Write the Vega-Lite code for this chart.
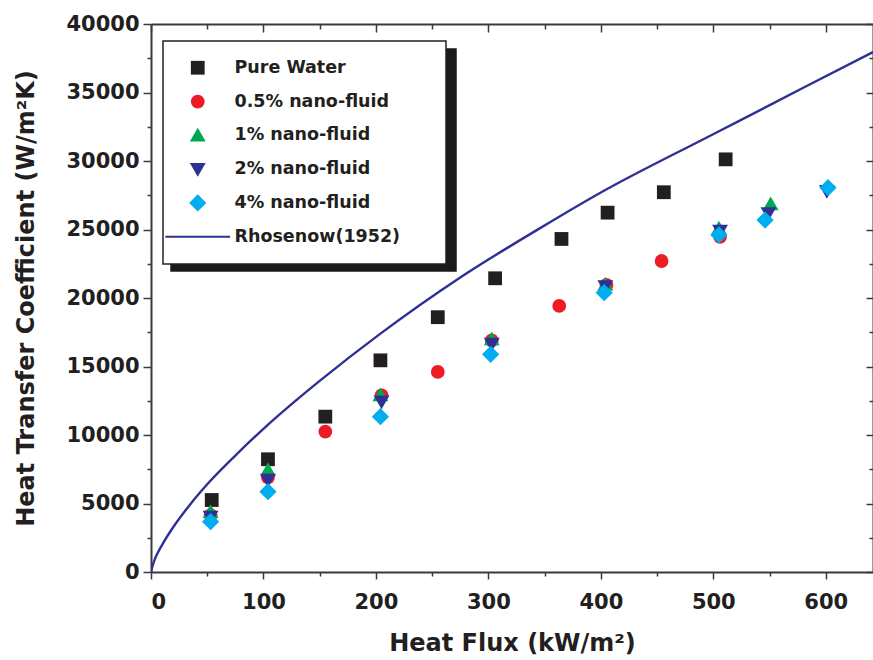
{
  "$schema": "https://vega.github.io/schema/vega-lite/v6.json",
  "width": 722,
  "height": 548,
  "autosize": {"type": "none"},
  "padding": {"left": 151, "top": 24, "right": 0, "bottom": 88},
  "background": "white",
  "config": {
    "view": {"stroke": null},
    "axis": {"grid": false, "domainColor": "#3a3a3a", "domainWidth": 2, "tickColor": "#3a3a3a", "tickWidth": 1.5, "labelFont": "DejaVu Sans", "labelFontWeight": "bold", "labelFontSize": 21, "labelColor": "#231f20", "titleFont": "DejaVu Sans", "titleFontWeight": "bold", "titleFontSize": 24, "titleColor": "#231f20"},
    "legend": {"strokeColor": "#222", "strokeWidth": 1.5, "fillColor": "white", "symbolStrokeWidth": 0}
  },
  "datasets": {
    "points": [
      {"series": "Pure Water", "q": 54, "h": 5255},
      {"series": "Pure Water", "q": 104, "h": 8230},
      {"series": "Pure Water", "q": 155, "h": 11340},
      {"series": "Pure Water", "q": 204, "h": 15450},
      {"series": "Pure Water", "q": 255, "h": 18600},
      {"series": "Pure Water", "q": 306, "h": 21440},
      {"series": "Pure Water", "q": 365, "h": 24310},
      {"series": "Pure Water", "q": 406, "h": 26230},
      {"series": "Pure Water", "q": 456, "h": 27720},
      {"series": "Pure Water", "q": 511, "h": 30120},
      {"series": "0.5% nano-fluid", "q": 53, "h": 4150},
      {"series": "0.5% nano-fluid", "q": 104, "h": 6900},
      {"series": "0.5% nano-fluid", "q": 155, "h": 10240},
      {"series": "0.5% nano-fluid", "q": 205, "h": 12900},
      {"series": "0.5% nano-fluid", "q": 255, "h": 14600},
      {"series": "0.5% nano-fluid", "q": 303, "h": 16900},
      {"series": "0.5% nano-fluid", "q": 363, "h": 19420},
      {"series": "0.5% nano-fluid", "q": 405, "h": 20950},
      {"series": "0.5% nano-fluid", "q": 454, "h": 22700},
      {"series": "0.5% nano-fluid", "q": 506, "h": 24470},
      {"series": "1% nano-fluid", "q": 53, "h": 4400},
      {"series": "1% nano-fluid", "q": 104, "h": 7450},
      {"series": "1% nano-fluid", "q": 204, "h": 12920},
      {"series": "1% nano-fluid", "q": 303, "h": 17000},
      {"series": "1% nano-fluid", "q": 404, "h": 21000},
      {"series": "1% nano-fluid", "q": 505, "h": 25090},
      {"series": "1% nano-fluid", "q": 551, "h": 26860},
      {"series": "2% nano-fluid", "q": 53, "h": 4010},
      {"series": "2% nano-fluid", "q": 104, "h": 6720},
      {"series": "2% nano-fluid", "q": 205, "h": 12430},
      {"series": "2% nano-fluid", "q": 303, "h": 16650},
      {"series": "2% nano-fluid", "q": 404, "h": 20850},
      {"series": "2% nano-fluid", "q": 506, "h": 24900},
      {"series": "2% nano-fluid", "q": 549, "h": 26180},
      {"series": "2% nano-fluid", "q": 601, "h": 27800},
      {"series": "4% nano-fluid", "q": 53, "h": 3670},
      {"series": "4% nano-fluid", "q": 104, "h": 5860},
      {"series": "4% nano-fluid", "q": 204, "h": 11340},
      {"series": "4% nano-fluid", "q": 302, "h": 15890},
      {"series": "4% nano-fluid", "q": 403, "h": 20390},
      {"series": "4% nano-fluid", "q": 505, "h": 24600},
      {"series": "4% nano-fluid", "q": 546, "h": 25690},
      {"series": "4% nano-fluid", "q": 602, "h": 28050}
    ],
    "curve": [
      {"series": "Rhosenow(1952)", "q": 0, "h": 0},
      {"series": "Rhosenow(1952)", "q": 1, "h": 330},
      {"series": "Rhosenow(1952)", "q": 3, "h": 850},
      {"series": "Rhosenow(1952)", "q": 6, "h": 1400},
      {"series": "Rhosenow(1952)", "q": 10, "h": 2000},
      {"series": "Rhosenow(1952)", "q": 20, "h": 3300},
      {"series": "Rhosenow(1952)", "q": 35, "h": 4950},
      {"series": "Rhosenow(1952)", "q": 50, "h": 6400},
      {"series": "Rhosenow(1952)", "q": 75, "h": 8500},
      {"series": "Rhosenow(1952)", "q": 100, "h": 10450},
      {"series": "Rhosenow(1952)", "q": 125, "h": 12250},
      {"series": "Rhosenow(1952)", "q": 150, "h": 13950},
      {"series": "Rhosenow(1952)", "q": 204, "h": 17400},
      {"series": "Rhosenow(1952)", "q": 275, "h": 21500},
      {"series": "Rhosenow(1952)", "q": 346, "h": 25100},
      {"series": "Rhosenow(1952)", "q": 400, "h": 27700},
      {"series": "Rhosenow(1952)", "q": 489, "h": 31500},
      {"series": "Rhosenow(1952)", "q": 520, "h": 32800},
      {"series": "Rhosenow(1952)", "q": 580, "h": 35350},
      {"series": "Rhosenow(1952)", "q": 642, "h": 37950}
    ]
  },
  "layer": [
    {
      "data": {"name": "curve"},
      "mark": {"type": "line", "strokeWidth": 2.4, "interpolate": "monotone", "clip": true},
      "encoding": {
        "x": {"field": "q", "type": "quantitative", "scale": {"domain": [0, 642], "nice": false, "zero": false},
              "axis": {"orient": "bottom", "values": [50, 150, 250, 350, 450, 550], "tickSize": 4, "labels": false, "domain": false, "title": null}},
        "y": {"field": "h", "type": "quantitative", "scale": {"domain": [0, 40000], "nice": false},
              "axis": {"orient": "left", "values": [2500, 7500, 12500, 17500, 22500, 27500, 32500, 37500], "tickSize": 4, "labels": false, "domain": false, "title": null}},
        "color": {"field": "series", "type": "nominal",
                  "scale": {"domain": ["Pure Water", "0.5% nano-fluid", "1% nano-fluid", "2% nano-fluid", "4% nano-fluid", "Rhosenow(1952)"],
                            "range": ["#231f20", "#ed1c24", "#00a651", "#2e3192", "#00aeef", "#2e3192"]},
                  "legend": {"orient": "none", "legendX": 12, "legendY": 17, "title": null, "padding": 18, "rowPadding": 14.8,
                             "labelFont": "DejaVu Sans", "labelFontWeight": "bold", "labelFontSize": 17.5, "labelColor": "#231f20",
                             "labelOffset": 28, "symbolOffset": 8, "labelLimit": 400, "symbolSize": 190,
                             "labelExpr": "datum.label + '\u2800\u2800'", "zindex": 2}}
      }
    },
    {
      "data": {"name": "points"},
      "mark": {"type": "point", "filled": true, "opacity": 1, "size": 190},
      "encoding": {
        "x": {"field": "q", "type": "quantitative",
              "axis": {"orient": "bottom", "values": [0, 100, 200, 300, 400, 500, 600], "tickSize": 7, "labelPadding": 12, "title": "Heat Flux (kW/m²)", "titlePadding": 19}},
        "y": {"field": "h", "type": "quantitative",
              "axis": {"orient": "left", "values": [0, 5000, 10000, 15000, 20000, 25000, 30000, 35000, 40000], "tickSize": 8, "labelPadding": 4, "format": "d", "title": "Heat Transfer Coefficient (W/m²K)", "titlePadding": 27}},
        "color": {"field": "series", "type": "nominal"},
        "shape": {"field": "series", "type": "nominal",
                  "scale": {"domain": ["Pure Water", "0.5% nano-fluid", "1% nano-fluid", "2% nano-fluid", "4% nano-fluid", "Rhosenow(1952)"],
                            "range": ["square", "circle", "M0,-1.1L1.15,0.9L-1.15,0.9Z", "M0,1.1L1.15,-0.9L-1.15,-0.9Z", "M0,-1.25L1.25,0L0,1.25L-1.25,0Z", "M-4.7,-0.16H4.7V0.16H-4.7Z"]}}
      }
    },
    {
      "data": {"name": "curve"},
      "mark": {"type": "point", "opacity": 0},
      "encoding": {
        "x": {"field": "q", "type": "quantitative",
              "axis": {"orient": "top", "values": [0, 100, 200, 300, 400, 500, 600], "tickSize": -8, "labels": false, "title": null}},
        "y": {"field": "h", "type": "quantitative",
              "axis": {"orient": "right", "values": [0, 5000, 10000, 15000, 20000, 25000, 30000, 35000, 40000], "tickSize": -7, "labels": false, "title": null}},
        "fill": {"field": "h", "type": "quantitative", "scale": {"range": ["#1a1a1a", "#1a1a1a"]},
                 "legend": {"type": "gradient", "direction": "vertical", "orient": "none", "legendX": 20, "legendY": 25, "title": null,
                            "gradientLength": 222, "gradientThickness": 285, "gradientStrokeWidth": 0, "padding": 0,
                            "labelExpr": "''", "labelFontSize": 1, "labelOffset": 0, "fillColor": "#1a1a1a", "strokeColor": "#1a1a1a", "zindex": 1}}
      }
    },
    {
      "data": {"name": "curve"},
      "mark": {"type": "point", "opacity": 0},
      "encoding": {
        "x": {"field": "q", "type": "quantitative",
              "axis": {"orient": "top", "values": [50, 150, 250, 350, 450, 550], "tickSize": -5, "labels": false, "domain": false, "title": null}},
        "y": {"field": "h", "type": "quantitative",
              "axis": {"orient": "right", "values": [2500, 7500, 12500, 17500, 22500, 27500, 32500, 37500], "tickSize": -4, "labels": false, "domain": false, "title": null}}
      }
    }
  ],
  "resolve": {"axis": {"x": "independent", "y": "independent"}}
}
